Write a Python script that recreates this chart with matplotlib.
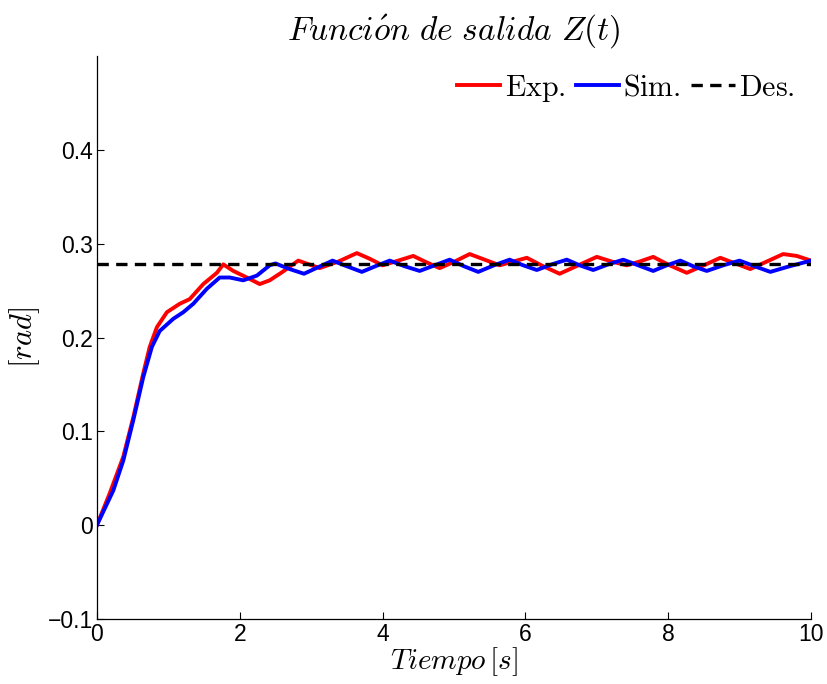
import matplotlib
matplotlib.use("Agg")
import matplotlib.pyplot as plt

plt.rcParams['mathtext.fontset'] = 'cm'
plt.rcParams['font.family'] = ['Liberation Sans', 'DejaVu Sans']

t_exp = [0, 0.18, 0.37, 0.51, 0.65, 0.74, 0.84, 0.98, 1.16, 1.30, 1.49, 1.68, 1.77,
         1.91, 2.10, 2.28, 2.42, 2.60, 2.82, 2.97, 3.12, 3.38, 3.64, 3.82, 4.00, 4.22,
         4.43, 4.62, 4.80, 5.01, 5.22, 5.43, 5.64, 5.83, 6.02, 6.25, 6.48, 6.74, 7.00,
         7.21, 7.42, 7.60, 7.79, 8.02, 8.26, 8.50, 8.73, 8.94, 9.15, 9.38, 9.61, 9.80, 10.0]
z_exp = [0, 0.034, 0.073, 0.115, 0.162, 0.190, 0.211, 0.227, 0.236, 0.241, 0.257, 0.269, 0.278,
         0.271, 0.264, 0.257, 0.261, 0.270, 0.282, 0.278, 0.274, 0.281, 0.290, 0.284, 0.277, 0.282,
         0.287, 0.280, 0.274, 0.281, 0.289, 0.283, 0.277, 0.281, 0.285, 0.276, 0.268, 0.277, 0.286,
         0.281, 0.277, 0.281, 0.286, 0.277, 0.269, 0.277, 0.285, 0.279, 0.273, 0.281, 0.289, 0.287, 0.282]

t_sim = [0, 0.23, 0.37, 0.51, 0.65, 0.77, 0.88, 1.07, 1.21, 1.35, 1.54, 1.72, 1.86,
         2.05, 2.24, 2.42, 2.50, 2.70, 2.90, 3.10, 3.30, 3.50, 3.71, 3.90, 4.10, 4.31,
         4.52, 4.73, 4.94, 5.14, 5.34, 5.56, 5.78, 5.97, 6.16, 6.37, 6.58, 6.76, 6.95,
         7.16, 7.37, 7.58, 7.79, 7.98, 8.17, 8.35, 8.54, 8.77, 9.00, 9.21, 9.43, 9.70, 10.0]
z_sim = [0, 0.037, 0.069, 0.112, 0.158, 0.190, 0.207, 0.220, 0.227, 0.236, 0.252, 0.264, 0.264,
         0.261, 0.266, 0.277, 0.279, 0.273, 0.268, 0.275, 0.282, 0.276, 0.270, 0.276, 0.282, 0.276,
         0.271, 0.277, 0.283, 0.276, 0.270, 0.277, 0.283, 0.277, 0.272, 0.278, 0.283, 0.277, 0.272,
         0.278, 0.283, 0.277, 0.271, 0.277, 0.282, 0.276, 0.271, 0.277, 0.282, 0.276, 0.270, 0.276, 0.282]

des_value = 0.278
t_des = [0, 10]
z_des = [des_value, des_value]

xticks = [0, 2, 4, 6, 8, 10]
yticks = [-0.1, 0, 0.1, 0.2, 0.3, 0.4]
ytick_labels = ['\u22120.1', '0', '0.1', '0.2', '0.3', '0.4']

fig = plt.figure(figsize=(8.28, 6.84), dpi=100)
ax = fig.add_axes([0.117, 0.095, 0.8625, 0.823])

ax.plot(t_exp, z_exp, color='#ff0000', lw=2.8, solid_joinstyle='round', label=r'$\mathrm{Exp.}$')
ax.plot(t_sim, z_sim, color='#0000ff', lw=2.8, solid_joinstyle='round', label=r'$\mathrm{Sim.}$')
ax.plot(t_des, z_des, color='black', lw=2.4, linestyle=(0, (3.4, 2.2)), label=r'$\mathrm{Des.}$')

ax.set_xlim(0, 10)
ax.set_ylim(-0.1, 0.5)
ax.set_xticks(xticks)
ax.set_xticklabels([str(x) for x in xticks])
ax.set_yticks(yticks)
ax.set_yticklabels(ytick_labels)
ax.tick_params(direction='in', length=5, width=0.8, labelsize=16.5, pad=3)
ax.spines['top'].set_visible(False)
ax.spines['right'].set_visible(False)
for s in ('left', 'bottom'):
    ax.spines[s].set_linewidth(0.9)

ax.set_title(r'$Funci\acute{o}n\ de\ salida\ Z(t)$', fontsize=24, pad=12)
ax.set_xlabel(r'$Tiempo\,[s]$', fontsize=21, labelpad=-1)
ax.set_ylabel(r'$[rad]$', fontsize=22, labelpad=4)

leg = ax.legend(loc='upper right', ncol=3, frameon=False, fontsize=21.5,
                handlelength=1.45, handletextpad=0.15, columnspacing=0.35,
                borderaxespad=0.35, borderpad=0.2)

fig.savefig('out.png', dpi=100)
